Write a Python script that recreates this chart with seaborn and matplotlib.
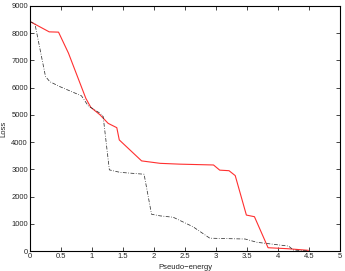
import matplotlib
matplotlib.use("Agg")
import matplotlib.pyplot as plt
import seaborn as sns
import pandas as pd

sns.set_style("ticks")
plt.rcParams["font.family"] = ["Liberation Sans", "DejaVu Sans"]

# solid red curve
red_x = [0.0, 0.31, 0.46, 0.62, 0.90, 0.98, 1.13, 1.26, 1.40, 1.44, 1.80, 2.10, 2.42,
         2.96, 3.06, 3.21, 3.31, 3.49, 3.62, 3.84, 4.15, 4.49]
red_y = [8430, 8050, 8040, 7270, 5610, 5280, 5000, 4690, 4530, 4080, 3310, 3220, 3190,
         3160, 2970, 2950, 2770, 1320, 1260, 120, 85, 25]

# dash-dot black curve
blk_x = [0.0, 0.08, 0.25, 0.32, 0.48, 0.83, 0.94, 1.13, 1.18, 1.28, 1.45, 1.84, 1.96,
         2.10, 2.31, 2.63, 2.90, 3.47, 3.66, 4.17, 4.25, 4.49]
blk_y = [8430, 8340, 6410, 6220, 6040, 5700, 5330, 5060, 4940, 2980, 2890, 2820, 1350,
         1290, 1240, 890, 470, 440, 320, 180, 35, 0]

red_df = pd.DataFrame({"x": red_x, "y": red_y})
blk_df = pd.DataFrame({"x": blk_x, "y": blk_y})

fig = plt.figure(figsize=(3.45, 2.71), dpi=100)
ax = fig.add_axes([30 / 345, 1 - 251 / 271, 310 / 345, 245 / 271])

sns.lineplot(data=red_df, x="x", y="y", ax=ax, color="#ff3030", linewidth=0.8,
             sort=False, estimator=None)
sns.lineplot(data=blk_df, x="x", y="y", ax=ax, color="#333333", linewidth=0.55,
             linestyle=(0, (5, 2, 1, 2)), sort=False, estimator=None)

ax.set_xlim(0, 5)
ax.set_ylim(0, 9000)
ax.set_xticks([0, 0.5, 1, 1.5, 2, 2.5, 3, 3.5, 4, 4.5, 5])
ax.set_xticklabels(["0", "0.5", "1", "1.5", "2", "2.5", "3", "3.5", "4", "4.5", "5"])
ax.set_yticks(range(0, 9001, 1000))
ax.tick_params(direction="in", top=True, right=True, labelsize=5.5, length=3,
               width=0.6, pad=1.5)
for s in ax.spines.values():
    s.set_linewidth(0.8)
    s.set_color("black")

ax.set_xlabel("Pseudo\u2212energy", fontsize=5.5, labelpad=2.5)
ax.set_ylabel("Loss", fontsize=5.5, labelpad=3)

fig.savefig("out.png", dpi=100)
